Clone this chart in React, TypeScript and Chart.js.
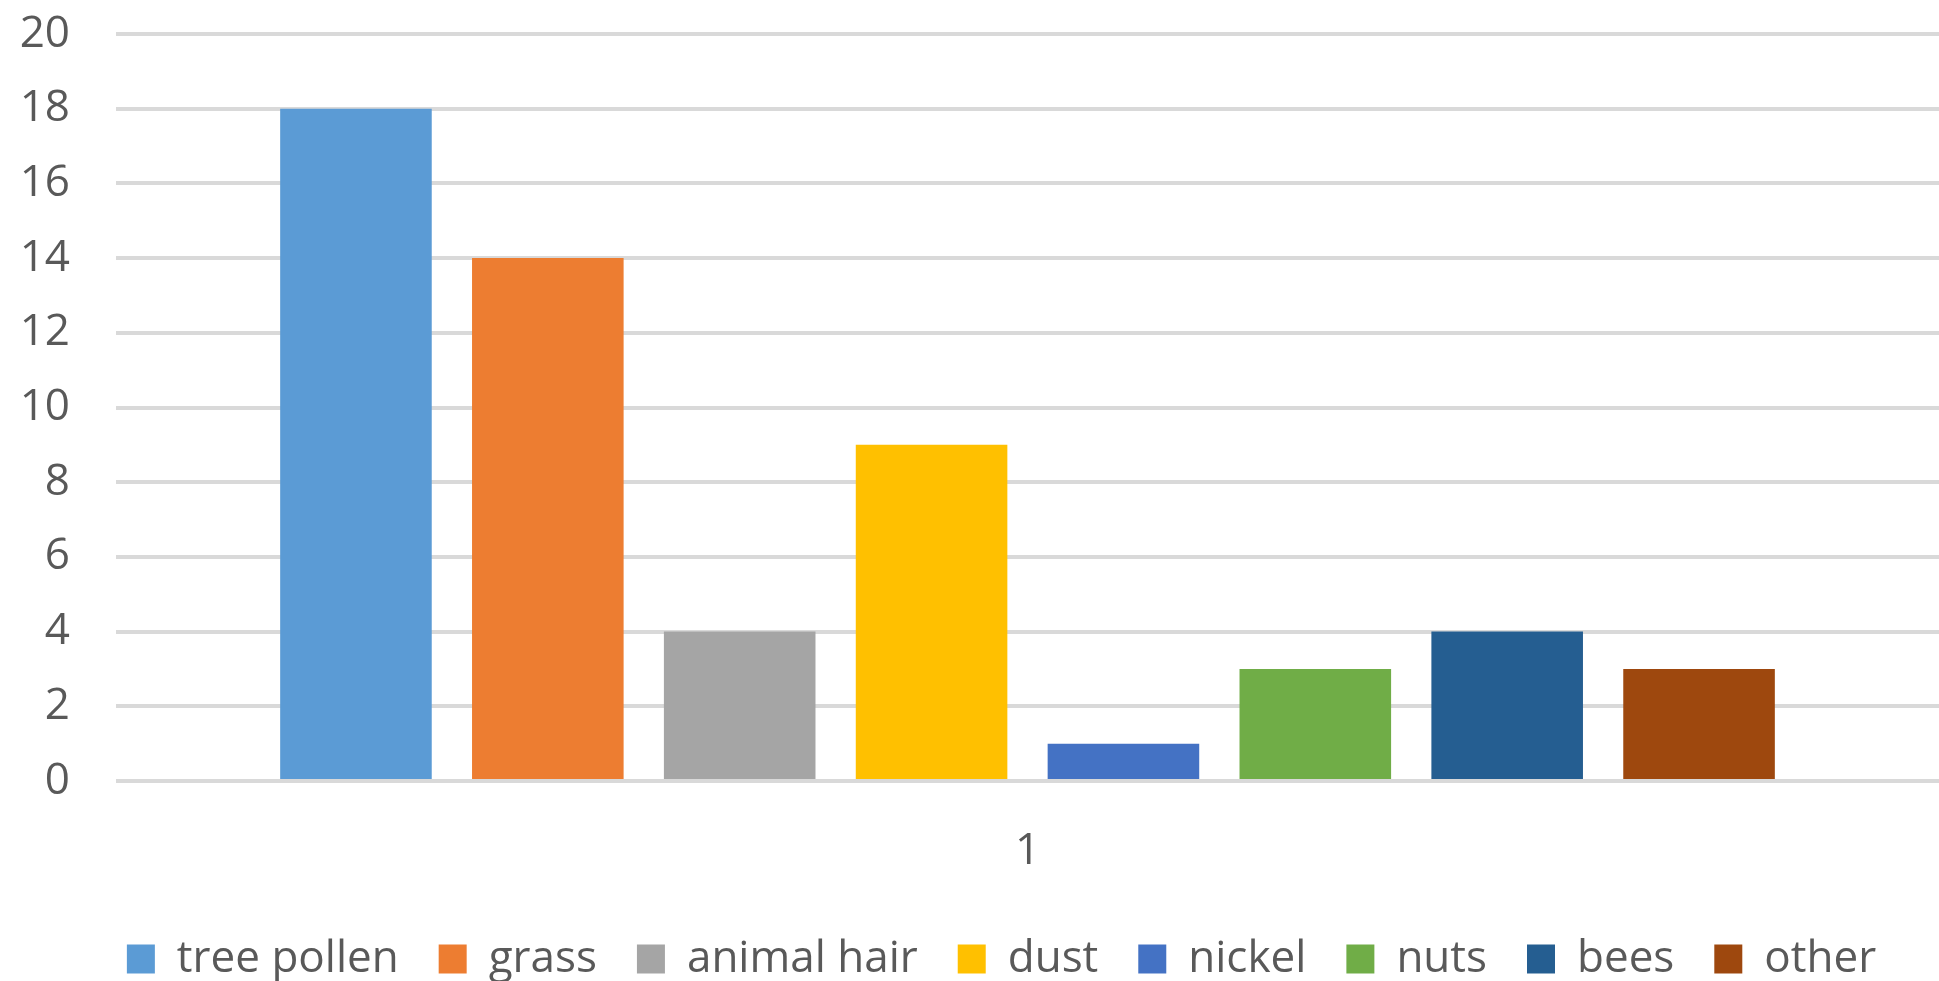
import React, { useEffect, useRef } from "react";
import { Chart, registerables } from "chart.js";

Chart.register(...registerables);

const categories = ["1"];
const seriesNames = ["tree pollen", "grass", "animal hair", "dust", "nickel", "nuts", "bees", "other"];
const seriesValues = [18, 14, 4, 9, 1, 3, 4, 3];
const seriesColors = ["#5B9BD5", "#ED7D31", "#A5A5A5", "#FFC000", "#4472C4", "#70AD47", "#255E91", "#9E480E"];
const yTicks = [0, 2, 4, 6, 8, 10, 12, 14, 16, 18, 20];

const FONT = "'Open Sans', 'Noto Sans', sans-serif";
const TEXT = "#595959";

// Legend in the reference is centred slightly right of the canvas centre
const legendShift = {
  id: "legendShift",
  afterLayout(chart: any) {
    const l = chart.legend;
    if (l) {
      l.left += 32;
      l.right += 32;
    }
  },
};

export default function App() {
  const ref = useRef<HTMLCanvasElement | null>(null);

  useEffect(() => {
    if (!ref.current) return;
    const chart = new Chart(ref.current, {
      type: "bar",
      data: {
        labels: categories,
        datasets: seriesNames.map((name, i) => ({
          label: name,
          data: [seriesValues[i]],
          backgroundColor: seriesColors[i],
          borderWidth: 0,
          categoryPercentage: 0.842,
          barPercentage: 0.79,
        })),
      },
      plugins: [legendShift],
      options: {
        animation: false,
        responsive: true,
        maintainAspectRatio: false,
        layout: { padding: { top: 34, left: 0, right: 0, bottom: -10 } },
        plugins: {
          tooltip: { enabled: false },
          legend: {
            position: "bottom",
            labels: {
              boxWidth: 28,
              boxHeight: 29,
              padding: 40,
              color: TEXT,
              font: { family: FONT, size: 44 },
            },
          },
        },
        scales: {
          x: {
            grid: { display: false, drawTicks: false },
            border: { display: false },
            ticks: { color: TEXT, padding: 44, font: { family: FONT, size: 44 } },
            afterFit: (s: any) => {
              s.height = 116;
            },
          },
          y: {
            min: 0,
            max: 20,
            afterBuildTicks: (s: any) => {
              s.ticks = yTicks.map((v) => ({ value: v }));
            },
            grid: { color: "#D9D9D9", lineWidth: 4, drawTicks: false },
            border: { display: false },
            ticks: { color: TEXT, padding: 46, font: { family: FONT, size: 44 } },
            afterFit: (s: any) => {
              s.width = 116;
              s.paddingTop = 0;
              s.paddingBottom = 0;
            },
          },
        },
      },
    });
    return () => chart.destroy();
  }, []);

  return (
    <div style={{ position: "fixed", left: 0, top: 0, width: 1939, height: 981, background: "#fff" }}>
      <canvas ref={ref} />
    </div>
  );
}
